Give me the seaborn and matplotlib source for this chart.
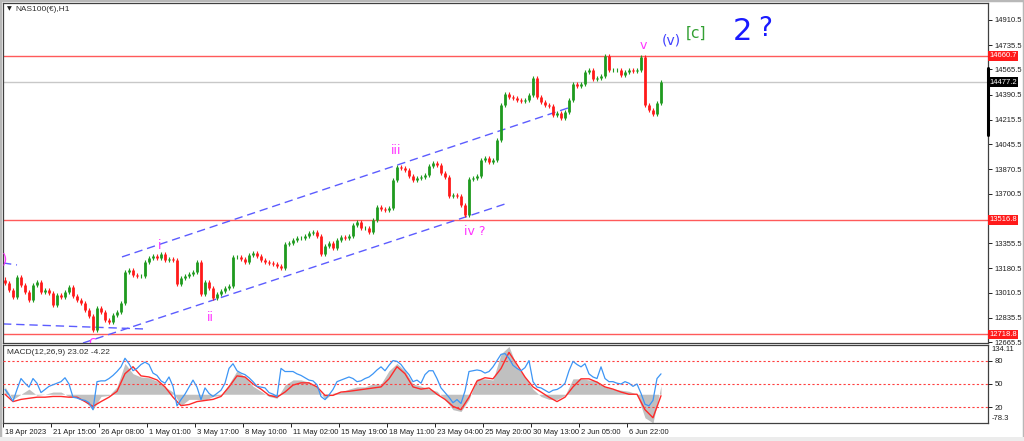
import matplotlib
matplotlib.use("Agg")
import matplotlib.pyplot as plt
import matplotlib.transforms as mtransforms
from matplotlib.patches import Rectangle
import numpy as np
import seaborn as sns

sns.set_style("white")
plt.rcParams['font.family'] = ['Liberation Sans', 'DejaVu Sans']

# NAS100 H1 closes, one value per ~4 bars
closes = [
    13077, 13029, 12980, 13119, 13063, 13015, 12959, 13063, 13084, 13015,
    13029, 13008, 12924, 12994, 12980, 13015, 13050, 12987, 12959, 12938,
    12889, 12847, 12750, 12903, 12875, 12820, 12806, 12854, 12875, 12938,
    13154, 13168, 13133, 13126, 13126, 13224, 13252, 13266, 13252, 13280,
    13238, 13245, 13238, 13070, 13112, 13126, 13140, 13154, 13224, 13001,
    13084, 13043, 12973, 13001, 13022, 13043, 13057, 13259, 13259, 13245,
    13224, 13273, 13287, 13266, 13238, 13224, 13217, 13210, 13196, 13182,
    13349, 13356, 13377, 13391, 13391, 13405, 13426, 13433, 13405, 13280,
    13335, 13356, 13321, 13377, 13398, 13391, 13405, 13482, 13503, 13461,
    13461, 13433, 13517, 13607, 13593, 13586, 13600, 13795, 13886, 13879,
    13865, 13823, 13795, 13809, 13816, 13830, 13893, 13914, 13900, 13844,
    13816, 13684, 13691, 13684, 13621, 13551, 13802, 13809, 13823, 13935,
    13949, 13921, 13935, 14074, 14318, 14395, 14374, 14367, 14353, 14346,
    14353, 14388, 14506, 14374, 14339, 14318, 14311, 14248, 14262, 14227,
    14269, 14353, 14464, 14451, 14464, 14548, 14562, 14499, 14506, 14520,
    14660, 14562, 14562, 14562, 14527, 14548, 14562, 14555, 14562, 14653,
    14318, 14283, 14255, 14332, 14477,
]
first_open = 13100

# MACD main (histogram) and signal, one value every 2 slots
macd_main = [
    20, -14, 0, 14, -3, 0, 6, 6, -6, -8,
    -20, -42, -6, -3, 20, 84, 56, 47, 45, 36,
    20, 6, -31, -14, -14, -17, -6, -3, 28, 64,
    47, 22, 8, -6, -11, 25, 39, 39, 33, 20,
    -14, 3, 6, 14, 20, 20, 28, 28, 64, 84,
    64, 28, 22, 14, 8, -14, -42, -47, -14, 42,
    42, 39, 110, 130, 75, 47, 14, -6, -14, -14,
    -3, 42, 42, 39, 36, 20, 14, 11, 8, 0,
    -64, -78, 23,
]
macd_signal = [
    0, -20, -14, -11, -8, -8, -6, -6, -8, -8,
    -20, -33, -20, -8, 8, 56, 75, 50, 47, 39,
    20, -8, -31, -28, -20, -17, -14, -6, 20, 50,
    47, 28, 14, -3, -8, 6, 25, 31, 31, 20,
    -3, -3, 6, 8, 11, 14, 17, 20, 42, 75,
    56, 20, 14, 17, 0, -14, -33, -42, -8, 36,
    45, 42, 70, 114, 81, 47, 20, 6, -8, -20,
    -8, 20, 42, 42, 33, 20, 14, 6, 0, 0,
    -42, -64, -4,
]
# blue oscillator on 0-100 scale, same slots as the closes
osc_line = [
    43, 36, 28, 43, 57, 51, 46, 57, 51, 39,
    43, 47, 49, 51, 53, 58, 50, 33, 32, 30,
    29, 26, 17, 53, 54, 54, 57, 61, 66, 72,
    83, 76, 67, 70, 75, 78, 75, 64, 61, 54,
    51, 59, 47, 22, 30, 37, 46, 55, 46, 30,
    45, 38, 34, 38, 42, 51, 70, 76, 67, 64,
    62, 58, 53, 47, 46, 45, 39, 37, 34, 70,
    66, 66, 66, 63, 61, 58, 55, 54, 49, 34,
    30, 36, 43, 53, 55, 57, 59, 57, 53, 54,
    57, 59, 63, 68, 72, 67, 74, 80, 79, 75,
    68, 62, 53, 55, 51, 62, 67, 67, 57, 45,
    39, 33, 26, 30, 25, 41, 66, 67, 68, 67,
    64, 66, 72, 80, 88, 89, 83, 74, 70, 67,
    71, 80, 53, 46, 45, 42, 39, 42, 43, 46,
    51, 67, 79, 75, 72, 76, 63, 59, 57, 72,
    57, 53, 53, 51, 50, 53, 51, 47, 50, 38,
    24, 22, 29, 57, 63,
]

date_labels = ["18 Apr 2023", "21 Apr 15:00", "26 Apr 08:00", "1 May 01:00",
               "3 May 17:00", "8 May 10:00", "11 May 02:00", "15 May 19:00",
               "18 May 11:00", "23 May 04:00", "25 May 20:00", "30 May 13:00",
               "2 Jun 05:00", "6 Jun 22:00"]
price_ticks = [14910.5, 14735.5, 14565.5, 14390.5, 14215.5, 14045.5, 13870.5,
               13700.5, 13355.5, 13180.5, 13010.5, 12835.5, 12665.5]
level_lines = [14660.7, 13516.8, 12718.8]
last_price = 14477.2
osc_levels = [80, 50, 20]
macd_min, macd_max = -78.3, 134.11

# wave count labels: text, slot, price, colour, size
wave_labels = [
    ("i", 38.75, 13342, "#ff33ff", 9),
    ("ii", 51.25, 12834, "#ff33ff", 9),
    ("iii", 97.75, 14004, "#ff33ff", 9),
    ("iv ?", 117.5, 13433, "#ff33ff", 9),
    ("v", 159.5, 14736, "#ff33ff", 9),
    ("(v)", 166.5, 14771, "#4040ff", 10),
    ("[c]", 172.75, 14820, "#33a033", 11),
    ("2", 184.25, 14830, "#1a1aff", 22),
    ("?", 190.0, 14845, "#1a1aff", 19),
    ("c", 21.75, 12668, "#ff33ff", 10),
    (")", -0.2, 13240, "#ff33ff", 10),
]
# dashed trend lines: (slot0, price0, slot1, price1)
trend_lines = [
    (29.25, 13259, 140.75, 14297),
    (19.5, 12659, 125.0, 13628),
    (-0.5, 12792, 34.5, 12757),
    (-0.5, 13217, 3.0, 13203),
]

W, H = 1024, 441
wick_pad = 16


def box(l, t, r, b):
    return [l / W, 1 - b / H, (r - l) / W, (b - t) / H]


fig = plt.figure(figsize=(W / 100, H / 100), dpi=100)
fig.patch.set_facecolor("white")
ax = fig.add_axes(box(3, 3, 988, 343))
axm = fig.add_axes(box(3, 345, 988, 423), sharex=ax)

# ---- price panel
n = len(closes)
idx = np.arange(n)
c = np.array(closes, dtype=float)
o = np.concatenate([[first_open], c[:-1]])
lo = np.minimum(o, c)
hi = np.maximum(o, c)
cols = np.where(c >= o, "#1f9a1f", "#ff1a1a")
ax.vlines(idx, lo - wick_pad, hi + wick_pad, colors=cols, linewidth=0.8, zorder=3)
ax.vlines(idx, lo, hi, colors=cols, linewidth=2.0, zorder=3)

for lv in level_lines:
    ax.axhline(lv, color="#ff5a5a", lw=1, zorder=1)
ax.axhline(last_price, color="#c8c8c8", lw=1, zorder=1)

for x0, y0, x1, y1 in trend_lines:
    ax.plot([x0, x1], [y0, y1], color="#5c5cff", lw=1, dashes=(6, 3.5), zorder=2)

for txt, xs, ys, col, fs in wave_labels:
    ax.text(xs, ys, txt, color=col, fontsize=fs, ha="center", va="center",
            family=["DejaVu Sans"], clip_on=True, zorder=4)

ax.set_xlim(-0.5, 245.75)
ax.set_ylim(12659, 15029)
ax.yaxis.tick_right()
ax.set_yticks(price_ticks)
ax.set_yticklabels([f"{v:.1f}" for v in price_ticks])
ax.tick_params(axis="y", right=True, length=3, width=0.7, pad=2, labelsize=5.5,
               colors="#202020", direction="out")
ax.tick_params(axis="x", bottom=False, labelbottom=False)

trans = mtransforms.blended_transform_factory(ax.transAxes, ax.transData)
for lv in level_lines:
    ax.text(1.0015, lv, f"{lv:.1f}", transform=trans, color="white", fontsize=5.5,
            ha="left", va="center", clip_on=False,
            bbox=dict(boxstyle="square,pad=0.18", fc="#ff1a1a", ec="none"))
ax.text(1.0015, last_price, f"{last_price:.1f}", transform=trans, color="white",
        fontsize=5.5, ha="left", va="center", clip_on=False,
        bbox=dict(boxstyle="square,pad=0.18", fc="black", ec="none"))
ax.plot([1.0, 1.0], [14109, 14576], transform=trans, color="black", lw=2.2,
        clip_on=False, zorder=5)

ax.text(0.004, 0.982, "\u25bc", transform=ax.transAxes, fontsize=4.5, color="#202020",
        ha="left", va="center", family=["DejaVu Sans"])
ax.text(0.0125, 0.982, "NAS100(\u20ac),H1", transform=ax.transAxes, fontsize=6,
        color="#303030", ha="left", va="center")

# ---- MACD panel
midx = np.arange(len(macd_main)) * 2
axm.fill_between(midx, 0, macd_main, color="#c0c0c0", lw=0, zorder=1)
sns.lineplot(x=midx, y=macd_signal, ax=axm, color="#ff2a2a", lw=1, zorder=3)
axm.set_ylim(macd_min, macd_max)
axm.yaxis.tick_right()
axm.set_yticks([0])
axm.set_yticklabels(["0.00"])
axm.tick_params(axis="y", right=True, length=3, width=0.7, pad=2, labelsize=5.5,
                colors="#202020")
axm.set_ylabel("")

axs = axm.twinx()
axs.set_ylim(0, 100)
for lv in osc_levels:
    axs.axhline(lv, color="#ff4040", lw=0.8, ls=(0, (2, 2)), zorder=1)
sns.lineplot(x=idx, y=osc_line, ax=axs, color="#3d95f5", lw=0.9, zorder=2)
axs.set_yticks(osc_levels)
axs.set_yticklabels([str(v) for v in osc_levels])
axs.tick_params(axis="y", right=True, length=3, width=0.7, pad=2, labelsize=5.5,
                colors="#202020")
axs.set_ylabel("")
for sp in axs.spines.values():
    sp.set_visible(False)

axm.text(1.004, 0.99, f"{macd_max:.2f}", transform=axm.transAxes, fontsize=5.5,
         color="#202020", ha="left", va="top", clip_on=False)
axm.text(1.004, 0.01, f"{macd_min:.1f}", transform=axm.transAxes, fontsize=5.5,
         color="#202020", ha="left", va="bottom", clip_on=False)
axm.text(0.004, 0.9, "MACD(12,26,9) 23.02 -4.22", transform=axm.transAxes,
         fontsize=6, color="#303030", ha="left", va="center")

tick_idx = -0.5 + 12 * np.arange(len(date_labels))
axm.set_xticks(tick_idx)
axm.set_xticklabels(date_labels, ha="left")
axm.tick_params(axis="x", bottom=True, length=3, width=0.7, pad=1.5, labelsize=5.5,
                colors="#202020")
shift = mtransforms.ScaledTranslation(1.5 / 72, 0, fig.dpi_scale_trans)
for lab in axm.get_xticklabels():
    lab.set_transform(lab.get_transform() + shift)
axm.set_xlim(-0.5, 245.75)

for a in (ax, axm):
    for sp in a.spines.values():
        sp.set_color("#404040")
        sp.set_linewidth(0.9)

fig.patches.append(Rectangle((0, 0), 1, 1, transform=fig.transFigure, fill=False,
                             ec="#b8b8b8", lw=2.5))
fig.patches.append(Rectangle((0, 0), 1, 4 / H, transform=fig.transFigure,
                             fc="#ececec", ec="none"))

fig.savefig("out.png", dpi=100)
